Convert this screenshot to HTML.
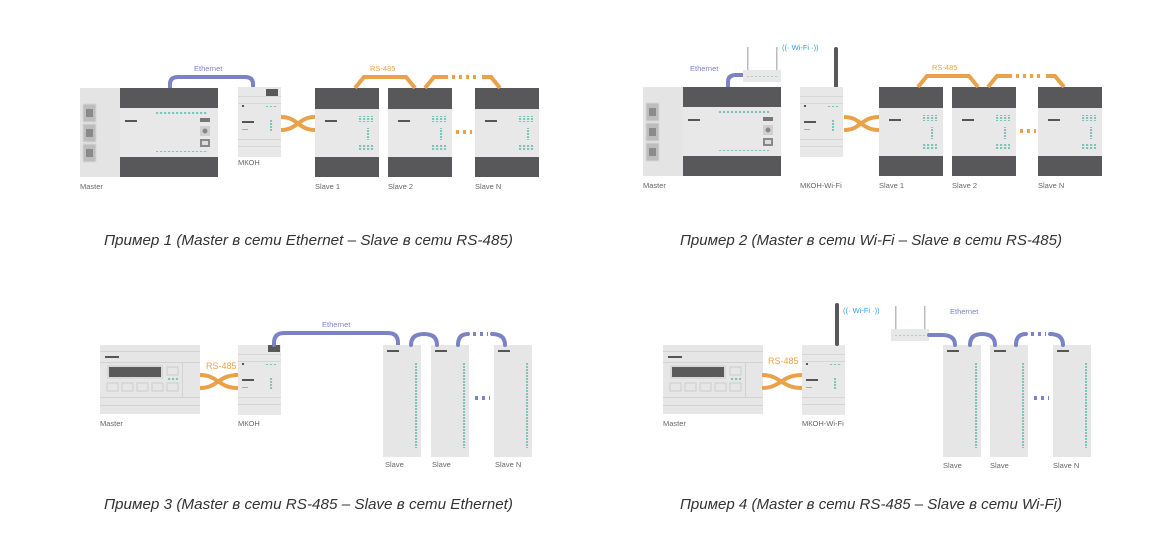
<!DOCTYPE html>
<html><head><meta charset="utf-8"><style>
html,body{margin:0;padding:0;background:#fff;width:1175px;height:560px;overflow:hidden}
svg{display:block}
text{font-family:"Liberation Sans",sans-serif}
.lbl{font-size:7.5px;fill:#666}
.cap{font-size:15px;fill:#333;font-style:italic}
.eth{fill:none;stroke:#7b83c4;stroke-width:4;stroke-linecap:round}
.rs{fill:none;stroke:#e9a24a;stroke-width:4}
.dots{fill:none;stroke:#7b83c4;stroke-width:4;stroke-dasharray:3 4}
.rsd{fill:none;stroke:#e9a24a;stroke-width:4;stroke-dasharray:3 4}
</style></head><body>
<svg width="1175" height="560" viewBox="0 0 1175 560" xmlns="http://www.w3.org/2000/svg">
<defs>
 <pattern id="gd" width="4" height="3" patternUnits="userSpaceOnUse"><rect width="2.2" height="2" fill="#7fc4b8"/></pattern>
 <g id="big">
  <rect x="0" y="0" width="40" height="89" fill="#e4e4e4"/>
  <g fill="#bdbdbd" stroke="#d6d6d6"><rect x="3" y="16" width="13" height="18" rx="1"/><rect x="3" y="36" width="13" height="18" rx="1"/><rect x="3" y="56" width="13" height="18" rx="1"/></g>
  <g fill="#8a8a8a"><rect x="6" y="21" width="7" height="8"/><rect x="6" y="41" width="7" height="8"/><rect x="6" y="61" width="7" height="8"/></g>
  <rect x="40" y="0" width="98" height="89" fill="#e8e8e8"/>
  <rect x="40" y="0" width="98" height="20" fill="#58585a"/>
  <rect x="40" y="69" width="98" height="20" fill="#58585a"/>
  <rect x="76" y="24" width="52" height="2" fill="url(#gd)"/>
  <rect x="76" y="62" width="52" height="2" fill="url(#gd)"/>
  <rect x="45" y="32" width="12" height="2" fill="#555"/>
  <rect x="120" y="30" width="10" height="4" fill="#777"/>
  <rect x="120" y="38" width="10" height="10" fill="#cfcfcf"/><circle cx="125" cy="43" r="2.5" fill="#888"/>
  <rect x="120" y="51" width="10" height="8" fill="#888"/><rect x="122" y="53" width="6" height="4" fill="#ddd"/>
 </g>
 <g id="slave">
  <rect x="0" y="0" width="64" height="89" fill="#e8e8e8"/>
  <rect x="0" y="0" width="64" height="21" fill="#58585a"/>
  <rect x="0" y="69" width="64" height="20" fill="#58585a"/>
  <rect x="10" y="32" width="12" height="2" fill="#555"/>
  <rect x="44" y="28" width="14" height="6" fill="url(#gd)"/>
  <rect x="52" y="40" width="2.2" height="12" fill="url(#gd)"/>
  <rect x="44" y="57" width="14" height="6" fill="url(#gd)"/>
 </g>
 <g id="mkon">
  <rect x="0" y="0" width="43" height="70" fill="#e8e8e8"/>
  <g fill="#d6d6d6"><rect x="0" y="9" width="43" height="1"/><rect x="0" y="16" width="43" height="1"/><rect x="0" y="52" width="43" height="1"/><rect x="0" y="59" width="43" height="1"/></g>
  <rect x="4" y="18" width="2" height="2" fill="#555"/>
  <rect x="26" y="19" width="13" height="2" fill="url(#gd)"/>
  <rect x="4" y="34" width="12" height="2" fill="#555"/>
  <rect x="4" y="42" width="6" height="1" fill="#aaa"/>
  <rect x="32" y="32" width="2.2" height="12" fill="url(#gd)"/>
 </g>
 <g id="small">
  <rect x="0" y="0" width="100" height="69" fill="#e6e6e6"/>
  <g fill="#d2d2d2"><rect x="0" y="6" width="100" height="1"/><rect x="0" y="17" width="100" height="1"/><rect x="0" y="52" width="100" height="1"/><rect x="0" y="60" width="100" height="1"/><rect x="82" y="18" width="1" height="34"/></g>
  <rect x="5" y="11" width="14" height="2" fill="#555"/>
  <rect x="7" y="20" width="56" height="14" fill="#d8d8d8"/><rect x="9" y="22" width="52" height="10" fill="#5a5a5a"/>
  <g fill="none" stroke="#ccc"><rect x="7" y="38" width="11" height="8"/><rect x="22" y="38" width="11" height="8"/><rect x="37" y="38" width="11" height="8"/><rect x="52" y="38" width="11" height="8"/><rect x="67" y="38" width="11" height="8"/><rect x="67" y="22" width="11" height="8"/></g>
  <rect x="67" y="33" width="11" height="2" fill="url(#gd)"/>
 </g>
 <g id="tall">
  <rect x="0" y="0" width="38" height="112" fill="#e6e6e6"/>
  <rect x="4" y="5" width="12" height="2" fill="#555"/>
  <rect x="32" y="17" width="2.2" height="86" fill="url(#gd)"/>
 </g>
 <g id="router">
  <rect x="4" y="-23" width="1.5" height="23" fill="#bbb"/><rect x="33" y="-23" width="1.5" height="23" fill="#bbb"/>
  <rect x="0" y="0" width="38" height="12" fill="#e8e8e8"/>
  <rect x="4" y="5" width="30" height="1.6" fill="url(#gd)"/>
 </g>
</defs>

<!-- EXAMPLE 1 -->
<path class="eth" d="M170 88 V84 Q170 77 178 77 H245 Q253 77 253 84 V88"/>
<text x="194" y="71" class="lbl" style="fill:#7b83c4">Ethernet</text>
<use href="#big" x="80" y="88"/>
<use href="#mkon" x="238" y="87"/>
<rect x="266" y="89" width="12" height="7" fill="#58585a"/>
<path class="rs" d="M281 117 C298 117 298 130 315 130 M281 130 C298 130 298 117 315 117"/>
<use href="#slave" x="315" y="88"/>
<use href="#slave" x="388" y="88"/>
<use href="#slave" x="475" y="88"/>
<path class="rs" d="M355 88 L364 77 H406 L415 88 M425 88 L434 77 H448"/>
<path class="rsd" d="M452 77 H478"/>
<path class="rs" d="M482 77 H491 L500 88"/>
<text x="370" y="71" class="lbl" style="fill:#e9a24a">RS-485</text>
<path class="rsd" d="M456 132 H472"/>
<text x="80" y="189" class="lbl">Master</text>
<text x="238" y="165" class="lbl">МКОН</text>
<text x="315" y="189" class="lbl">Slave 1</text>
<text x="388" y="189" class="lbl">Slave 2</text>
<text x="475" y="189" class="lbl">Slave N</text>
<text x="104" y="245" class="cap" textLength="409" lengthAdjust="spacingAndGlyphs">Пример 1 (Master в сети Ethernet – Slave в сети RS-485)</text>

<!-- EXAMPLE 2 -->
<path class="eth" d="M728 88 V82 Q728 75 736 75 H744"/>
<text x="690" y="71" class="lbl" style="fill:#7b83c4">Ethernet</text>
<use href="#router" x="743" y="70"/>
<text x="782" y="50" class="lbl" style="fill:#2ea3e0">((· Wi-Fi ·))</text>
<rect x="834" y="47" width="4" height="41" rx="2" fill="#58585a"/>
<use href="#big" x="643" y="87"/>
<use href="#mkon" x="800" y="87"/>
<path class="rs" d="M844 117 C861 117 861 130 879 130 M844 130 C861 130 861 117 879 117"/>
<use href="#slave" x="879" y="87"/>
<use href="#slave" x="952" y="87"/>
<use href="#slave" x="1038" y="87"/>
<path class="rs" d="M918 87 L927 76 H969 L978 87 M988 87 L997 76 H1012"/>
<path class="rsd" d="M1016 76 H1042"/>
<path class="rs" d="M1046 76 H1055 L1064 87"/>
<text x="932" y="70" class="lbl" style="fill:#e9a24a">RS-485</text>
<path class="rsd" d="M1020 131 H1036"/>
<text x="643" y="188" class="lbl">Master</text>
<text x="800" y="188" class="lbl">МКОН-Wi-Fi</text>
<text x="879" y="188" class="lbl">Slave 1</text>
<text x="952" y="188" class="lbl">Slave 2</text>
<text x="1038" y="188" class="lbl">Slave N</text>
<text x="680" y="245" class="cap" textLength="382" lengthAdjust="spacingAndGlyphs">Пример 2 (Master в сети Wi-Fi – Slave в сети RS-485)</text>

<!-- EXAMPLE 3 -->
<use href="#small" x="100" y="345"/>
<use href="#mkon" x="238" y="345"/>
<rect x="268" y="345" width="12" height="7" fill="#58585a"/>
<path class="eth" d="M274 345 V343 Q274 333 284 333 H388 Q398 333 398 343 V345"/>
<text x="322" y="327" class="lbl" style="fill:#7b83c4">Ethernet</text>
<path class="rs" d="M200 375 C218 375 218 388 238 388 M200 388 C218 388 218 375 238 375"/>
<text x="206" y="369" class="lbl" style="fill:#e9a24a;font-size:9px">RS-485</text>
<use href="#tall" x="383" y="345"/>
<use href="#tall" x="431" y="345"/>
<use href="#tall" x="494" y="345"/>
<path class="eth" d="M411 345 Q411 334 424 334 Q437 334 437 345 M458 345 Q458 334 468 334"/>
<path class="dots" d="M473 334 H488"/>
<path class="eth" d="M492 334 Q505 334 505 345"/>
<path class="dots" d="M475 398 H490"/>
<text x="100" y="426" class="lbl">Master</text>
<text x="238" y="426" class="lbl">МКОН</text>
<text x="385" y="467" class="lbl">Slave</text>
<text x="432" y="467" class="lbl">Slave</text>
<text x="495" y="467" class="lbl">Slave N</text>
<text x="104" y="509" class="cap" textLength="409" lengthAdjust="spacingAndGlyphs">Пример 3 (Master в сети RS-485 – Slave в сети Ethernet)</text>

<!-- EXAMPLE 4 -->
<use href="#small" x="663" y="345"/>
<use href="#mkon" x="802" y="345"/>
<rect x="835" y="303" width="4" height="43" rx="2" fill="#58585a"/>
<text x="843" y="313" class="lbl" style="fill:#2ea3e0">((· Wi-Fi ·))</text>
<use href="#router" x="891" y="329"/>
<text x="950" y="314" class="lbl" style="fill:#7b83c4">Ethernet</text>
<path class="rs" d="M762 375 C781 375 781 388 802 388 M762 388 C781 388 781 375 802 375"/>
<text x="768" y="364" class="lbl" style="fill:#e9a24a;font-size:9px">RS-485</text>
<use href="#tall" x="943" y="345"/>
<use href="#tall" x="990" y="345"/>
<use href="#tall" x="1053" y="345"/>
<path class="eth" d="M929 335 H942 Q955 335 955 345 M970 345 Q970 334 982 334 Q995 334 995 345 M1016 345 Q1016 334 1026 334"/>
<path class="dots" d="M1031 334 H1046"/>
<path class="eth" d="M1050 334 Q1063 334 1063 345"/>
<path class="dots" d="M1034 398 H1049"/>
<text x="663" y="426" class="lbl">Master</text>
<text x="802" y="426" class="lbl">МКОН-Wi-Fi</text>
<text x="943" y="468" class="lbl">Slave</text>
<text x="990" y="468" class="lbl">Slave</text>
<text x="1053" y="468" class="lbl">Slave N</text>
<text x="680" y="509" class="cap" textLength="382" lengthAdjust="spacingAndGlyphs">Пример 4 (Master в сети RS-485 – Slave в сети Wi-Fi)</text>
</svg>
</body></html>
